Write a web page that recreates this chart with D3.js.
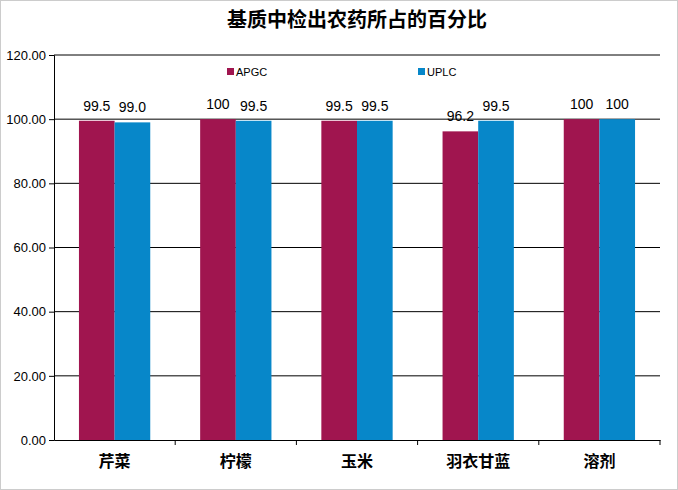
<!DOCTYPE html>
<html><head><meta charset="utf-8">
<script src="https://cdn.jsdelivr.net/npm/d3@7"></script>
<style>body{margin:0;background:#fff}</style>
</head><body>
<svg id="vis" width="678" height="490"></svg>
<script>
var categories = ["芹菜", "柠檬", "玉米", "羽衣甘蓝", "溶剂"]
var apgc = [99.5, 100, 99.5, 96.2, 100]
var uplc = [99.0, 99.5, 99.5, 99.5, 100]
var apgcLabels = ["99.5", "100", "99.5", "96.2", "100"]
var uplcLabels = ["99.0", "99.5", "99.5", "99.5", "100"]
var yTicks = [0, 20, 40, 60, 80, 100, 120]

var m = {top: 55, right: 18, bottom: 50, left: 54}
var W = 678, H = 490
var svg = d3.select("#vis")
var font = "Liberation Sans, Arial, sans-serif"

svg.append("rect").attr("x", 0.5).attr("y", 0.5).attr("width", W - 1).attr("height", H - 1)
  .attr("fill", "none").attr("stroke", "#ccc")

var x = d3.scaleBand().domain(categories).range([m.left, W - m.right])
var y = d3.scaleLinear().domain([0, 120]).range([H - m.bottom, m.top])
var inner = d3.scaleBand().domain(["a", "u"]).range([0, x.bandwidth()]).paddingInner(0).paddingOuter(0.7)

// grid
svg.append("g").selectAll("line").data(yTicks.slice(1)).enter().append("line")
  .attr("x1", m.left).attr("x2", W - m.right)
  .attr("y1", d => y(d)).attr("y2", d => y(d)).attr("stroke", "#000")

var yAxis = svg.append("g").attr("transform", `translate(${m.left},0)`)
  .call(d3.axisLeft(y).tickValues(yTicks).tickFormat(d3.format(".2f")).tickSize(5))
yAxis.select(".domain").attr("stroke", "#000")
yAxis.selectAll("text").attr("font-size", 13).attr("font-family", font).attr("fill", "#000")

var xAxis = svg.append("g").attr("transform", `translate(0,${y(0)})`)
  .call(d3.axisBottom(x).tickSize(5).tickSizeOuter(0))
xAxis.selectAll(".tick line").attr("transform", `translate(${x.bandwidth() / 2},0)`)
xAxis.selectAll("text").attr("font-size", 16).attr("font-weight", "bold")
  .attr("font-family", "Noto Sans CJK SC").attr("fill", "#000").attr("dy", "1.2em")

var series = [
  {key: "a", vals: apgc, labels: apgcLabels, color: "#A0154F", name: "APGC"},
  {key: "u", vals: uplc, labels: uplcLabels, color: "#0787C9", name: "UPLC"}
]
series.forEach(function (s) {
  var g = svg.append("g")
  g.selectAll("rect").data(categories).enter().append("rect")
    .attr("x", (d) => x(d) + inner(s.key))
    .attr("y", (d, i) => y(s.vals[i]))
    .attr("width", inner.bandwidth())
    .attr("height", (d, i) => y(0) - y(s.vals[i]))
    .attr("fill", s.color)
  g.selectAll("text").data(categories).enter().append("text")
    .attr("x", (d) => x(d) + inner(s.key) + inner.bandwidth() / 2)
    .attr("y", (d, i) => y(s.vals[i]) - 10)
    .attr("text-anchor", "middle").attr("font-size", 14).attr("font-family", font)
    .text((d, i) => s.labels[i])
})

// legend
var legX = [227, 418]
series.forEach(function (s, i) {
  svg.append("rect").attr("x", legX[i]).attr("y", 68).attr("width", 7).attr("height", 7).attr("fill", s.color)
  svg.append("text").attr("x", legX[i] + 9).attr("y", 76).attr("font-size", 11)
    .attr("font-family", font).text(s.name)
})

svg.append("text").attr("x", 357).attr("y", 27).attr("text-anchor", "middle")
  .attr("font-size", 20).attr("font-weight", "bold").attr("font-family", "Noto Sans CJK SC")
  .text("基质中检出农药所占的百分比")
</script>
</body></html>
